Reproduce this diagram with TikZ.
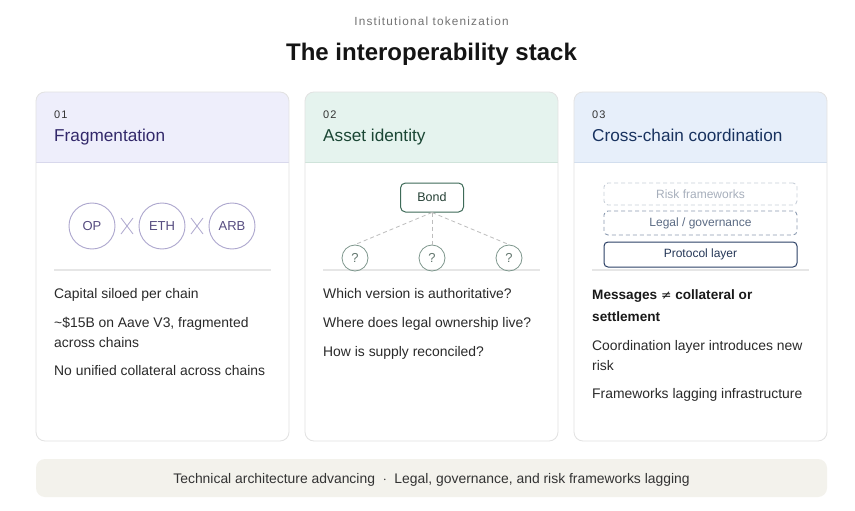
\documentclass[tikz,border=0pt]{standalone}
\usepackage{fontspec}
\setmainfont{Liberation Sans}
\newfontfamily\spaced[LetterSpace=10]{Liberation Sans}
\newfontfamily\symfont{DejaVu Sans}
\usetikzlibrary{positioning}
\definecolor{cardborder}{HTML}{E2E2E2}
\definecolor{hdrA}{HTML}{EEEEFB}
\definecolor{hdrB}{HTML}{E5F3EE}
\definecolor{hdrC}{HTML}{E7EFFA}
\definecolor{lineA}{HTML}{D8D8EC}
\definecolor{lineB}{HTML}{CFE3DA}
\definecolor{lineC}{HTML}{D2DEEE}
\definecolor{titA}{HTML}{32286A}
\definecolor{titB}{HTML}{1A4634}
\definecolor{titC}{HTML}{18325F}
\definecolor{bodytxt}{HTML}{2A2A2A}
\definecolor{numtxt}{HTML}{333333}
\definecolor{chaincirc}{HTML}{ADA7CE}
\definecolor{chaintxt}{HTML}{564C80}
\definecolor{bondcol}{HTML}{3E6B58}
\definecolor{qcol}{HTML}{7E978D}
\definecolor{dashgrey}{HTML}{BDBDBD}
\definecolor{riskcol}{HTML}{C8CFD9}
\definecolor{risktxt}{HTML}{A7AFBC}
\definecolor{legalcol}{HTML}{8C9BB1}
\definecolor{legaltxt}{HTML}{5B6B84}
\definecolor{protocol}{HTML}{2C4166}
\definecolor{divider}{HTML}{E6E6E6}
\definecolor{bandfill}{HTML}{F3F2EC}
\tikzset{
  x=1pt, y=-1pt,
  body/.style={anchor=base west, inner sep=0pt, text=bodytxt, font=\fontsize{13.9}{16}\selectfont},
  boldbody/.style={anchor=base west, inner sep=0pt, text=black!90, font=\fontsize{13.6}{16}\bfseries\selectfont},
  numlbl/.style={anchor=base west, inner sep=0pt, text=numtxt, font=\spaced\fontsize{11}{13}\selectfont},
  cardtitle/.style={anchor=base west, inner sep=0pt, font=\fontsize{17.2}{20}\selectfont},
  chain/.style={circle, draw=chaincirc, line width=0.9pt, minimum size=46pt, inner sep=0pt, text=chaintxt, font=\fontsize{13}{15}\selectfont},
  qnode/.style={circle, draw=qcol, line width=0.8pt, minimum size=26pt, inner sep=0pt, text=qcol!80!black, font=\fontsize{13}{15}\selectfont},
  layerbox/.style={rounded corners=4pt, minimum width=193pt, inner sep=0pt, font=\fontsize{12}{14}\selectfont},
  xmark/.style={draw=chaincirc, line width=0.8pt},
  dashlink/.style={dashgrey, dash pattern=on 4pt off 3pt, line width=0.8pt},
}
\newcommand{\card}[4]{%
  \begin{scope}
    \clip[rounded corners=9pt] (#1,92) rectangle (#2,441);
    \fill[white] (#1,92) rectangle (#2,441);
    \fill[#3] (#1,92) rectangle (#2,162);
  \end{scope}
  \draw[#4, line width=0.8pt] (#1,162) -- (#2,162);
  \draw[cardborder, line width=0.8pt, rounded corners=9pt] (#1,92) rectangle (#2,441);
  \draw[divider, line width=1.2pt] (#1+18,270) -- (#2-18,270);
}
\begin{document}
\begin{tikzpicture}
\useasboundingbox (0,0) rectangle (855,511);
\fill[white] (0,0) rectangle (855,511);

% Titles
\node[inner sep=0pt, anchor=base, text=black!55, font=\spaced\fontsize{11.8}{13}\selectfont] (sup) at (431.5,26) {Institutional tokenization};
\node[inner sep=0pt, anchor=base, text=black!92, font=\fontsize{24}{28}\bfseries\selectfont] (title) at (431.5,61) {The interoperability stack};

% Cards
\card{36}{289}{hdrA}{lineA}
\card{305}{558}{hdrB}{lineB}
\card{574}{827}{hdrC}{lineC}

% Card 1
\node[numlbl] (n1) at (54,118) {01};
\node[cardtitle, text=titA] (t1) at (54,141) {Fragmentation};
\node[chain] (op) at (92,226) {OP};
\node[chain] (eth) at (162,226) {ETH};
\node[chain] (arb) at (232,226) {ARB};
\coordinate (x1) at (127,226);
\coordinate (x2) at (197,226);
\draw[xmark] ([shift={(-6,-8)}]x1) -- ([shift={(6,8)}]x1);
\draw[xmark] ([shift={(-6,8)}]x1) -- ([shift={(6,-8)}]x1);
\draw[xmark] ([shift={(-6,-8)}]x2) -- ([shift={(6,8)}]x2);
\draw[xmark] ([shift={(-6,8)}]x2) -- ([shift={(6,-8)}]x2);
\node[body] (a1) at (54,298) {Capital siloed per chain};
\node[body] (a2) at (54,327) {\textasciitilde\$15B on Aave V3, fragmented};
\node[body] (a3) at (54,347) {across chains};
\node[body] (a4) at (54,375) {No unified collateral across chains};

% Card 2
\node[numlbl] (n2) at (323,118) {02};
\node[cardtitle, text=titB] (t2) at (323,141) {Asset identity};
\node[draw=bondcol, line width=1pt, rounded corners=5pt, minimum width=63pt, minimum height=29pt, inner sep=0pt, text=bondcol!60!black, font=\fontsize{12.5}{15}\selectfont] (bond) at (432,197.5) {Bond};
\node[qnode] (q1) at (355,258) {?};
\node[qnode] (q2) at (432,258) {?};
\node[qnode] (q3) at (509,258) {?};
\draw[dashlink] (bond.south) -- (q1.north);
\draw[dashlink] (bond.south) -- (q2.north);
\draw[dashlink] (bond.south) -- (q3.north);
\node[body] (b1) at (323,298) {Which version is authoritative?};
\node[body] (b2) at (323,327) {Where does legal ownership live?};
\node[body] (b3) at (323,356) {How is supply reconciled?};

% Card 3
\node[numlbl] (n3) at (592,118) {03};
\node[cardtitle, text=titC] (t3) at (592,141) {Cross-chain coordination};
\node[layerbox, draw=riskcol, dash pattern=on 4pt off 3pt, line width=0.9pt, minimum height=22pt, text=risktxt] (risk) at (700.5,194) {Risk frameworks};
\node[layerbox, draw=legalcol, dash pattern=on 4pt off 3pt, line width=0.9pt, minimum height=24pt, text=legaltxt] (legal) at (700.5,223) {Legal / governance};
\node[layerbox, draw=protocol, line width=1pt, minimum height=25pt, text=protocol!85!black] (proto) at (700.5,254.5) {Protocol layer};
\node[boldbody] (c1) at (592,299) {Messages {\symfont\mdseries\fontsize{12.5}{15}\selectfont≠} collateral or};
\node[boldbody] (c1b) at (592,321) {settlement};
\node[body] (c2) at (592,350) {Coordination layer introduces new};
\node[body] (c2b) at (592,370) {risk};
\node[body] (c3) at (592,398) {Frameworks lagging infrastructure};

% Bottom band
\fill[bandfill, rounded corners=9pt] (36,459) rectangle (827,497);
\node[inner sep=0pt, anchor=base, text=black!80, font=\fontsize{13.9}{15}\selectfont] (band) at (431.5,483) {Technical architecture advancing~~$\cdot$~~Legal, governance, and risk frameworks lagging};
\end{tikzpicture}
\end{document}
